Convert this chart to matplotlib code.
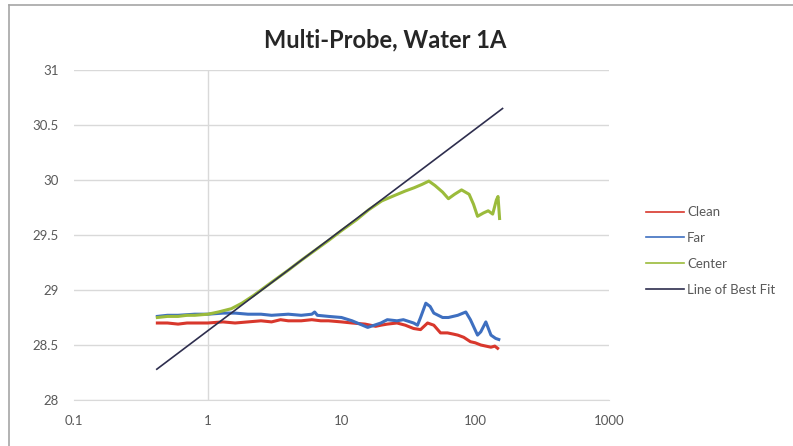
import matplotlib
matplotlib.use("Agg")
import matplotlib.pyplot as plt
from matplotlib.lines import Line2D

# ---------------- data ----------------
title = "Multi-Probe, Water 1A"
series_names = ["Clean", "Far", "Center", "Line of Best Fit"]

clean_x = [0.42, 0.5, 0.6, 0.7, 0.8, 1.0, 1.3, 1.6, 2.0, 2.5, 3.0, 3.5, 4.0, 5.0, 6.0, 7.0,
           8.0, 10, 12, 15, 18, 19.7, 22, 26, 30, 34.6, 39, 44, 49, 55, 62, 68, 74, 82,
           92, 100, 110, 120, 131, 140, 147]
clean_y = [28.70, 28.70, 28.69, 28.70, 28.70, 28.70, 28.71, 28.70, 28.71, 28.72, 28.71, 28.73,
           28.72, 28.72, 28.73, 28.72, 28.72, 28.71, 28.70, 28.69, 28.67, 28.68, 28.69, 28.70,
           28.68, 28.65, 28.64, 28.70, 28.68, 28.61, 28.61, 28.60, 28.59, 28.57, 28.53, 28.52,
           28.50, 28.49, 28.48, 28.49, 28.47]

far_x = [0.42, 0.5, 0.6, 0.8, 1.0, 1.3, 1.6, 2.0, 2.5, 3.0, 4.0, 5.0, 6.0, 6.3, 6.6, 8.0,
         10, 12, 15.7, 19.7, 22, 26, 29, 34.6, 37, 39, 42.7, 46, 49, 57, 63, 74, 85, 92,
         104, 110, 120, 131, 142, 150]
far_y = [28.76, 28.77, 28.77, 28.78, 28.78, 28.79, 28.79, 28.78, 28.78, 28.77, 28.78, 28.77,
         28.78, 28.80, 28.77, 28.76, 28.75, 28.72, 28.66, 28.70, 28.73, 28.72, 28.73, 28.70,
         28.68, 28.75, 28.88, 28.85, 28.79, 28.75, 28.75, 28.77, 28.80, 28.73, 28.59, 28.62,
         28.71, 28.59, 28.56, 28.55]

center_x = [0.42, 0.5, 0.6, 0.7, 0.8, 1.0, 1.2, 1.5, 1.8, 2.2, 3.0, 4.0, 5.0, 6.0, 8.0,
            10, 13, 16, 20, 25, 30, 35, 40, 45, 50, 57, 63, 70, 79, 90, 97, 104, 115,
            125, 135, 144, 148, 152]
center_y = [28.75, 28.76, 28.76, 28.77, 28.77, 28.78, 28.80, 28.83, 28.88, 28.95, 29.07, 29.18,
            29.27, 29.34, 29.45, 29.54, 29.64, 29.73, 29.81, 29.86, 29.90, 29.93, 29.96, 29.99,
            29.95, 29.89, 29.83, 29.87, 29.91, 29.87, 29.78, 29.67, 29.70, 29.72, 29.69,
            29.82, 29.85, 29.65]

fit_x = [0.416, 160]
fit_y = [28.28, 30.65]

x_ticks = [0.1, 1, 10, 100, 1000]
x_ticklabels = ["0.1", "1", "10", "100", "1000"]
y_ticks = [28, 28.5, 29, 29.5, 30, 30.5, 31]
y_ticklabels = ["28", "28.5", "29", "29.5", "30", "30.5", "31"]

# ---------------- style ----------------
c_clean = "#D8372C"
c_far = "#3E6FC0"
c_center = "#9BBB3B"
c_fit = "#2E2E4E"
txt_col = "#595959"
grid_col = "#D9D9D9"

plt.rcParams["font.family"] = ["Lato", "DejaVu Sans"]

W, H = 793, 446
fig = plt.figure(figsize=(W / 100, H / 100), dpi=100)
ax = fig.add_axes([74 / W, 1 - 400 / H, (609 - 74) / W, (400 - 70) / H])

ax.set_xscale("log")
ax.set_xlim(0.1, 1000)
ax.set_ylim(28, 31)

ax.plot(clean_x, clean_y, color=c_clean, lw=2.2, solid_joinstyle="round", zorder=3)
ax.plot(far_x, far_y, color=c_far, lw=2.2, solid_joinstyle="round", zorder=3)
ax.plot(center_x, center_y, color=c_center, lw=2.2, solid_joinstyle="round", zorder=3)
ax.plot(fit_x, fit_y, color=c_fit, lw=1.2, zorder=4)

ax.set_yticks(y_ticks)
ax.set_yticklabels(y_ticklabels)
ax.set_xticks(x_ticks)
ax.set_xticklabels(x_ticklabels)
ax.minorticks_off()
ax.tick_params(axis="both", length=0, labelsize=9.5, labelcolor=txt_col)
ax.tick_params(axis="y", pad=11)
ax.tick_params(axis="x", pad=11)

ax.yaxis.grid(True, color=grid_col, lw=1.0)
ax.set_axisbelow(True)
for s in ["left", "right", "top"]:
    ax.spines[s].set_visible(False)
ax.spines["bottom"].set_color(grid_col)
ax.axvline(1, color=grid_col, lw=1.0, zorder=1)

fig.text(385 / W, 1 - 40 / H, title, ha="center", va="center",
         fontsize=17, fontweight="bold", color="#262626")

handles = [Line2D([], [], color=c_clean, lw=1.2),
           Line2D([], [], color=c_far, lw=1.2),
           Line2D([], [], color=c_center, lw=1.2),
           Line2D([], [], color=c_fit, lw=1.2)]
leg = fig.legend(handles, series_names, loc="center left",
                 bbox_to_anchor=(646 / W, 1 - 251 / H), frameon=False,
                 fontsize=9.5, handlelength=2.9, handletextpad=0.2,
                 labelspacing=1.05, borderpad=0, borderaxespad=0)
for t in leg.get_texts():
    t.set_color(txt_col)

# outer chart frame (left and top edges visible)
fig.add_artist(Line2D([9 / W, 9 / W], [0, 1 - 5 / H], color="#A6A6A6", lw=1.2,
                      transform=fig.transFigure))
fig.add_artist(Line2D([9 / W, 1], [1 - 5 / H, 1 - 5 / H], color="#A6A6A6", lw=1.2,
                      transform=fig.transFigure))

fig.savefig("out.png", dpi=100)
